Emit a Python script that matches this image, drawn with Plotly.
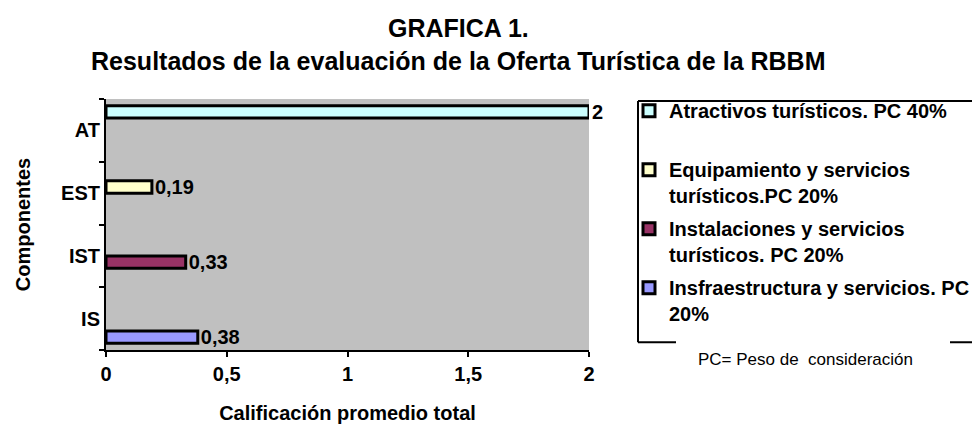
import plotly.graph_objects as go

# ---- data ----
categories = ["IS", "IST", "EST", "AT"]
values = [0.38, 0.33, 0.19, 2]
series_names = [
    "Insfraestructura y servicios. PC<br>20%",
    "Instalaciones y servicios<br>turísticos. PC 20%",
    "Equipamiento y servicios<br>turísticos.PC 20%",
    "Atractivos turísticos. PC 40%<br> ",
]
series_colors = ["#9999FF", "#993366", "#FFFFCC", "#CCFFFF"]
legend_ranks = [4, 3, 2, 1]
x_ticks = [0, 0.5, 1, 1.5, 2]
title_lines = ["GRAFICA 1.", "Resultados de la evaluación de la Oferta Turística de la RBBM"]
note_text = "PC= Peso de  consideración"

def fmt(v):
    return ("%g" % v).replace(".", ",")

FONT = "Arial, 'Liberation Sans', sans-serif"

fig = go.Figure()
for i, (cat, val, name, col, rk) in enumerate(zip(categories, values, series_names, series_colors, legend_ranks)):
    xs = [val if c == cat else None for c in categories]
    txt = [fmt(val) if c == cat else "" for c in categories]
    fig.add_trace(go.Bar(
        y=categories, x=xs, orientation="h", name=name,
        legendgroup="g%d" % i, legendrank=rk,
        marker=dict(color=col, line=dict(color="black", width=3)),
        text=txt, textposition="outside", cliponaxis=False, constraintext="none",
        textfont=dict(family=FONT, size=20, color="black", weight="bold"),
    ))

L, R, T, B = 98, 581, 91, 346
W, H = 980, 425

def px(x):
    return (x - L) / (R - L)

def py(y):
    return (B - y) / (B - T)

shapes = []
line = dict(color="black", width=2)
shapes.append(dict(type="line", xref="paper", yref="paper", x0=px(630), x1=px(630), y0=py(93), y1=py(338), line=line))
shapes.append(dict(type="line", xref="paper", yref="paper", x0=px(630), x1=px(990), y0=py(93), y1=py(93), line=line))
shapes.append(dict(type="line", xref="paper", yref="paper", x0=px(630), x1=px(668), y0=py(338), y1=py(338), line=line))
shapes.append(dict(type="line", xref="paper", yref="paper", x0=px(942), x1=px(990), y0=py(338), y1=py(338), line=line))

annotations = [
    dict(text=title_lines[0], xref="paper", yref="paper", x=px(450), y=py(19),
         xanchor="center", yanchor="middle", showarrow=False,
         font=dict(family=FONT, size=25, color="black", weight="bold")),
    dict(text=title_lines[1], xref="paper", yref="paper", x=px(450), y=py(52),
         xanchor="center", yanchor="middle", showarrow=False,
         font=dict(family=FONT, size=25, color="black", weight="bold")),
    dict(text=note_text, xref="paper", yref="paper",
         x=px(688), y=py(356), xanchor="left", yanchor="middle", showarrow=False,
         font=dict(family=FONT, size=17, color="black")),
]

fig.update_layout(
    width=W, height=H,
    margin=dict(l=L, r=W - R, t=T, b=H - B),
    paper_bgcolor="white", plot_bgcolor="#C0C0C0",
    separators=",.",
    barmode="group", bargap=0.216, bargroupgap=0,
    font=dict(family=FONT, color="black"),
    xaxis=dict(
        range=[0, 2], tickvals=x_ticks, ticktext=[fmt(v) for v in x_ticks],
        showgrid=False, zeroline=False,
        showline=True, linecolor="black", linewidth=2,
        ticks="outside", ticklen=5, tickwidth=2, tickcolor="black",
        tickfont=dict(family=FONT, size=20, color="black", weight="bold"),
        title=dict(text="Calificación promedio total", standoff=22,
                   font=dict(family=FONT, size=20, color="black", weight="bold")),
        fixedrange=True,
    ),
    yaxis=dict(
        type="category", categoryorder="array", categoryarray=categories,
        showgrid=False, zeroline=False,
        showline=True, linecolor="black", linewidth=2,
        ticks="outside", ticklen=5, tickwidth=2, tickcolor="black",
        tickson="boundaries",
        tickfont=dict(family=FONT, size=20, color="black", weight="bold"),
        title=dict(text="Componentes", standoff=25,
                   font=dict(family=FONT, size=20, color="black", weight="bold")),
        fixedrange=True,
    ),
    legend=dict(
        x=px(621), y=py(83), xanchor="left", yanchor="top",
        traceorder="grouped", tracegroupgap=4, valign="top",
        bgcolor="rgba(0,0,0,0)", borderwidth=0, maxheight=400,
        font=dict(family=FONT, size=20, color="black", weight="bold"),
    ),
    shapes=shapes,
    annotations=annotations,
    showlegend=True,
)

fig.write_html("out.html")
